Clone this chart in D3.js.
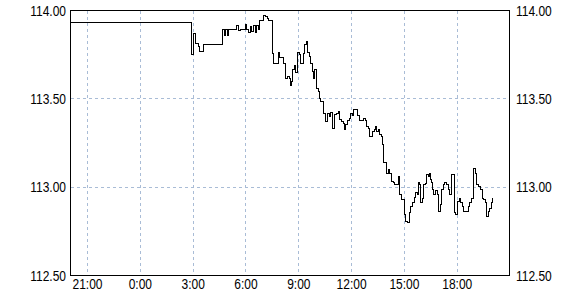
<!DOCTYPE html>
<html>
<head>
<meta charset="utf-8">
<script src="https://cdn.jsdelivr.net/npm/d3@7"></script>
<style>
  body { margin: 0; background: #fff; }
  svg { display: block; }
  .lbl { font-family: "Liberation Sans", Arial, sans-serif; font-size: 12px; fill: #000; }
</style>
</head>
<body>
<div id="chart"></div>
<script>

// time window of the chart (day 1 evening -> day 2 evening)
var startTime = "20:02";
var endTime = "20:58";

// tick labels
var xTickLabels = ["21:00", "0:00", "3:00", "6:00", "9:00", "12:00", "15:00", "18:00"];
var yTicks = [112.50, 113.00, 113.50, 114.00];
var yGrid = [113.00, 113.50];

// price series (times read in order, rolling over midnight)
var times = ["20:03","2:55","3:02","3:09","3:18","3:21","3:35","4:39","4:46","4:51",
  "4:58","5:00","5:28","5:34","5:40","5:57","6:02","6:08","6:14","6:19",
  "6:25","6:31","6:36","6:42","6:47","6:53","6:59","7:07","7:12","7:18",
  "7:30","7:33","7:50","7:53","8:09","8:15","8:22","8:27","8:32","8:36",
  "8:39","8:44","8:48","8:55","9:01","9:06","9:17","9:21","9:25","9:30",
  "9:35","9:41","9:47","9:51","9:55","10:01","10:06","10:10","10:15","10:23",
  "10:32","10:38","10:44","10:49","10:55","11:03","11:09","11:14","11:20","11:26",
  "11:31","11:35","11:39","11:45","11:52","11:57","12:03","12:08","12:19","12:28",
  "12:42","12:48","12:51","12:59","13:02","13:10","13:17","13:22","13:25","13:33",
  "13:36","13:42","13:45","13:50","13:59","14:05","14:10","14:16","14:22","14:27",
  "14:39","14:44","14:50","14:59","15:05","15:11","15:16","15:22","15:28","15:33",
  "15:38","15:43","15:47","15:53","15:55","16:00","16:06","16:12","16:15","16:21",
  "16:27","16:30","16:32","16:36","16:40","16:46","16:51","16:57","17:03","17:06",
  "17:12","17:18","17:23","17:29","17:32","17:40","17:49","17:55","18:01","18:06",
  "18:11","18:17","18:22","18:37","18:43","18:49","18:57","19:03","19:06","19:11",
  "19:20","19:25","19:31","19:37","19:40","19:45","19:51","19:57","19:59","20:03"];

var prices = [113.930,113.750,113.870,113.815,113.795,113.767,113.810,113.895,113.858,113.895,
  113.858,113.890,113.914,113.884,113.890,113.922,113.895,113.877,113.908,113.880,
  113.914,113.877,113.914,113.890,113.941,113.946,113.971,113.965,113.952,113.946,
  113.758,113.702,113.764,113.736,113.702,113.617,113.626,113.617,113.575,113.598,
  113.668,113.688,113.649,113.762,113.753,113.702,113.758,113.805,113.824,113.762,
  113.739,113.702,113.654,113.617,113.664,113.560,113.541,113.504,113.485,113.419,
  113.372,113.419,113.400,113.423,113.334,113.410,113.419,113.428,113.381,113.372,
  113.362,113.325,113.353,113.376,113.391,113.419,113.406,113.438,113.406,113.376,
  113.391,113.376,113.344,113.334,113.287,113.315,113.325,113.344,113.315,113.325,
  113.297,113.287,113.240,113.137,113.075,113.099,113.075,113.033,113.024,113.014,
  113.061,112.958,112.929,112.845,112.807,112.798,112.854,112.890,112.912,112.943,
  112.971,112.958,113.027,113.014,112.912,112.937,113.014,113.020,113.070,113.061,
  113.076,113.046,113.027,112.986,112.958,112.982,112.958,112.863,112.901,112.986,
  113.014,113.027,113.014,112.986,112.958,113.070,112.854,112.845,112.920,112.934,
  112.912,112.890,112.863,112.890,112.911,112.937,113.103,113.080,113.014,113.004,
  112.986,112.937,112.929,112.911,112.835,112.863,112.882,112.911,112.937,112.937];

// turn "H:MM" strings into dates, stepping a day forward whenever the clock goes back
function parseSeq(list) {
  var day = 0, prev = -1;
  return list.map(function(t) {
    var p = t.split(":"), m = +p[0] * 60 + +p[1];
    if (m < prev) day++;
    prev = m;
    return new Date(2024, 0, 1 + day, +p[0], +p[1]);
  });
}

var width = 580, height = 300;
var plotL = 70.5, plotR = 509.5, plotT = 10.5, plotB = 275.5;

var svg = d3.select("#chart").append("svg")
    .attr("width", width)
    .attr("height", height);

var dates = parseSeq(times);
var data = dates.map(function(d, i) { return { t: d, v: prices[i] }; });
// start, ticks, end read as one running sequence so the midnight roll-over is caught
var axisSeq = parseSeq([startTime].concat(xTickLabels, [endTime]));
var domainT = [axisSeq[0], axisSeq[axisSeq.length - 1]];
var tickDates = axisSeq.slice(1, -1);

var x = d3.scaleTime().domain(domainT).range([plotL, plotR]);
var y = d3.scaleLinear().domain([112.5, 114]).range([plotB, plotT]);

var gridColor = "#a9bcd6";

// vertical dashed grid
svg.append("g").selectAll("line")
    .data(tickDates)
  .enter().append("line")
    .attr("x1", function(d) { return Math.round(x(d) - 0.5) + 0.5; })
    .attr("x2", function(d) { return Math.round(x(d) - 0.5) + 0.5; })
    .attr("y1", plotT)
    .attr("y2", plotB)
    .attr("stroke", gridColor)
    .attr("stroke-dasharray", "3,3")
    .attr("shape-rendering", "crispEdges");

// horizontal dashed grid
svg.append("g").selectAll("line")
    .data(yGrid)
  .enter().append("line")
    .attr("x1", plotL)
    .attr("x2", plotR)
    .attr("y1", function(d) { return Math.round(y(d) - 0.5) + 0.5; })
    .attr("y2", function(d) { return Math.round(y(d) - 0.5) + 0.5; })
    .attr("stroke", gridColor)
    .attr("stroke-dasharray", "3,3")
    .attr("shape-rendering", "crispEdges");

// price line
var line = d3.line()
    .x(function(d) { return x(d.t); })
    .y(function(d) { return y(d.v); })
    .curve(d3.curveStepAfter);

svg.append("path")
    .datum(data)
    .attr("fill", "none")
    .attr("stroke", "#000")
    .attr("stroke-width", 1)
    .attr("shape-rendering", "crispEdges")
    .attr("d", line);

// frame
svg.append("rect")
    .attr("x", plotL)
    .attr("y", plotT)
    .attr("width", plotR - plotL)
    .attr("height", plotB - plotT)
    .attr("fill", "none")
    .attr("stroke", "#000")
    .attr("shape-rendering", "crispEdges");

// y labels on both sides (slightly tall glyphs, like the original)
var fmt = d3.format(".2f");
[{ xp: 66, anchor: "end" }, { xp: 516, anchor: "start" }].forEach(function(side) {
  svg.append("g").selectAll("g")
      .data(yTicks)
    .enter().append("g")
      .attr("transform", function(d) { return "translate(" + side.xp + "," + (y(d) + 5) + ") scale(1,1.15)"; })
    .append("text")
      .attr("class", "lbl")
      .attr("text-anchor", side.anchor)
      .text(fmt);
});

// x labels
svg.append("g").selectAll("g")
    .data(tickDates)
  .enter().append("g")
    .attr("transform", function(d) { return "translate(" + x(d) + ",289) scale(1,1.15)"; })
  .append("text")
    .attr("class", "lbl")
    .attr("text-anchor", "middle")
    .text(function(d, i) { return xTickLabels[i]; });

</script>
</body>
</html>
